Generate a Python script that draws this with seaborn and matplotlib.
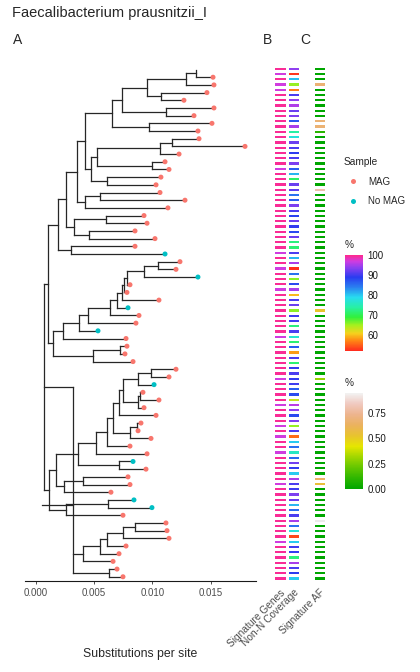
import re
import numpy as np
import pandas as pd
import matplotlib
matplotlib.use("Agg")
import matplotlib.pyplot as plt
from matplotlib.collections import LineCollection
from matplotlib.colors import LinearSegmentedColormap
import seaborn as sns

# tree in newick form; the number after ':' is the node depth from the root
# (units of 1e-4 substitutions per site), tips listed top to bottom
tree_depths = """
(
 (
  (
   (
    (
     (
      (
       (
        (
         (
          (
           ((t0:137.2,t1:152.0):137.2,t2:152.8):128.6,
           (t3:146.8,t4:127.1):107.2
          ):95.7,
          (t5:152.8,t6:135.7):111.5
         ):74.3,
         (t7:151.1,t8:139.1):97.2
        ):65.5,
        ((((t9:140.0,t10:179.4):116.9,t11:122.9):106.6,(t12:110.9,t13:114.3):100.0):52.9,
         (t14:107.4,t15:103.2):61.0):47.3
       ):42.4,
       ((t16:106.6,t17:128.0):55.2,t18:113.4):42.4
      ):35.8,
      ((t19:92.9,t20:95.5):60.6,(t21:85.2,t22:102.3):45.5):33.2
     ):25.9,
     (t23:85.2,t24:110.9):30.1
    ):19.0,
    (
     ((((((((((t25:123.7,t26:120.3):104.9,t27:139.1):92.9,t28:80.9):78.1,t29:78.3):75.8,
        t30:105.7):73.8,t31:79.2):69.5,t32:88.6):63.8,t33:86.0):44.7,t34:53.5):37.5,t35:77.5):23.8,
     ((t36:78.3,t37:76.6):72.3,t38:83.5):49.5
    ):15.2
   ):10.4,
   (
    (
     (
      (
       (
        (
         (
          (((t39:120.3,t40:114.3):98.6,t41:101.5):87.5,
           ((t42:92.0,t43:105.7):89.5,t44:92.9):88.0):74.7,
          t45:103.2
         ):71.7,
         ((t46:90.3,t47:87.8):86.9,t48:98.9):80.9
        ):66.6,
        t49:80.9
       ):61.5,
       t50:95.5
      ):51.5,
      (t51:83.5,t52:94.6):71.2
     ):36.1,
     ((t53:79.2,t54:80.9):40.9,t55:64.6):24.7
    ):17.3,
    ((t56:84.3,t57:99.7):61.8,t58:74.9):25.9
   ):11.6
  ):7.3,
  (((((t59:111.7,t60:112.6):85.2,t61:114.3):74.7,t62:77.5):61.5,t63:71.5):55.2,t64:66.4):40.9,
   (t65:69.8,t66:74.9):63.2):31.8
 ):5.6,
 ((((((t67:84.3,t68:80.9):73.8,t69:95.5):62.3,t70:50.9):20.1,
    ((t71:86.0,t72:83.5):24.7,t73:86.9):16.1):11.0,
   ((t74:66.4,t75:109.2):65.2,t76:67.2):13.9):5.8
 ):3.0,
 (((((t77:70.6,t78:78.3):68.9,t79:83.5):35.8,(t80:81.8,t81:78.3):44.7):21.6,t82:33.0):13.9,
  (((t83:75.8,t84:74.1):65.2,t85:85.2):18.2,(t86:86.0,t87:67.2):21.0):8.7):4.5,
 ((((((t88:97.2,t89:102.3):84.6,t90:120.3):80.9,t91:110.0):73.8,
    (((t92:93.8,t93:104.0):77.5,t94:95.5):69.5,t95:86.0):65.2):55.2,t96:65.5):49.5,
  t97:42.4):31.0
):0;
"""

# tips without a MAG (t0 is the reference, no point drawn)
no_mag_tips = ["t24", "t27", "t31", "t34", "t41", "t51", "t56", "t57",
               "t69", "t75", "t77", "t85"]
reference_tip = "t0"

# heatmap values, one per tip, top to bottom
signature_genes = [
    99.5, 97, 99.5, 97, 97, 99.5, 99.5, 99.5, 99.5, 99.5,
    99.5, 99.5, 99.5, 99.5, 99.5, 99.5, 99.5, 99.5, 99.5, 97,
    99.5, 99.5, 99.5, 99.5, 99.5, 99.5, 99.5, 99.5, 99.5, 99.5,
    99.5, 99.5, 99.5, 99.5, 99.5, 97, 99.5, 99.5, 97, 99.5,
    99.5, 99.5, 97, 99.5, 99.5, 99.5, 99.5, 99.5, 99.5, 99.5,
    99.5, 97, 99.5, 99.5, 99.5, 99.5, 99.5, 99.5, 99.5, 97,
    99.5, 99.5, 99.5, 99.5, 97, 99.5, 99.5, 99.5, 97, 99.5,
    97, 99.5, 99.5, 97, 99.5, 99.5, 99.5, 99.5, 99.5, 97,
    99.5, 99.5, 99.5, 99.5, 99.5, 99.5, 99.5, 99.5, 99.5, 99.5,
    97, 99.5, 99.5, 99.5, 99.5, 99.5, 99.5, 99.5,
]
non_n_coverage = [
    94, 53, 80.5, 65.5, 57, 90.5, 94, 95.5, 92, 93,
    87, 95, 74, 77.5, 92, 90.5, 89, 90.5, 93, 86.5,
    81, 71, 92, 91.5, 85, 86.5, 93, 90.5, 88.5, 92,
    89.5, 88, 92, 72, 71.5, 90.5, 81, 95, 52.5, 85,
    66, 88, 95, 60, 90.5, 92, 66, 90, 90, 72,
    90.5, 77, 71.5, 86.5, 58.5, 90.5, 71.5, 89.5, 90.5, 89.5,
    90, 86.5, 88, 63.5, 96, 94, 88, 93, 65.5, 90.5,
    56, 80, 85, 76, 85.5, 92.5, 89.5, 80, 95, 90.5,
    90, 93, 92, 81, 85.5, 90.5, 95, 85, 77.5, 54,
    80, 90, 89.5, 72, 95, 90.5, 89, 80,
]
signature_af = [
    0, 0, 0, 0.68, 0, 0, 0, 0, 0, 0,
    0.68, 0.68, 0.1, 0, 0, 0, 0, 0, 0, 0,
    0, 0, 0, 0.8, 0, 0, 0, 0, 0, 0,
    0, 0, 0, 0, 0, 0, 0, 0, 0, 0,
    0, 0, 0, 0, 0, 0, 0.52, 0, 0, 0,
    0, 0, 0, 0, 0, 0, 0, 0, 0, 0.3,
    0, 0, 0, 0, 0, 0, 0, 0, 0, 0,
    0, 0, 0, 0, 0, 0, 0, 0, 0.65, 0.55,
    0, 0, 0, 0, 0, 0, None, 0, 0, 0,
    0, 0, 0, 0, 0, 0, 0, 0,
]

# ---- parse + lay out tree
def parse_tree(text):
    s = re.sub(r"\s+", "", text).rstrip(";")
    pos = 0

    def node():
        nonlocal pos
        kids = []
        if s[pos] == "(":
            pos += 1
            kids.append(node())
            while s[pos] == ",":
                pos += 1
                kids.append(node())
            assert s[pos] == ")"
            pos += 1
        m = re.match(r"([^:,()]*)(?::([\d.]+))?", s[pos:])
        pos += m.end()
        return {"name": m.group(1), "depth": float(m.group(2) or 0), "kids": kids}

    return node()


root = parse_tree(tree_depths)
tips = []


def place(n):
    if not n["kids"]:
        n["y"] = len(tips) + 0.5
        tips.append(n)
    else:
        for k in n["kids"]:
            place(k)
        n["y"] = np.mean([k["y"] for k in n["kids"]])


place(root)
assert [t["name"] for t in tips] == [f"t{i}" for i in range(len(tips))]

segs = []


def collect(n):
    x = n["depth"] * 1e-4
    for k in n["kids"]:
        segs.append([(x, k["y"]), (k["depth"] * 1e-4, k["y"])])
        collect(k)
    if n["kids"]:
        ys = [k["y"] for k in n["kids"]]
        segs.append([(x, min(ys)), (x, max(ys))])


collect(root)

tip_df = pd.DataFrame({
    "name": [t["name"] for t in tips],
    "x": [t["depth"] * 1e-4 for t in tips],
    "y": [t["y"] for t in tips],
})
tip_df["Sample"] = np.where(tip_df["name"].isin(no_mag_tips), "No MAG", "MAG")
tip_df = tip_df[tip_df["name"] != reference_tip]

heat_b = pd.DataFrame({"Signature Genes": signature_genes,
                       "Non-N Coverage": non_n_coverage})
heat_c = pd.DataFrame({"Signature AF": np.array(signature_af, dtype=float)})

# ---- colour scales
pct_min, pct_max = 52.2, 100
pct_stops = [(52.2, "#FF2A1E"), (57.5, "#FF8A14"), (61, "#F5D21E"), (65, "#A6F01E"),
             (69, "#32F03C"), (74, "#28F0A5"), (79, "#28DCF0"), (84, "#2A80F0"),
             (89, "#2A3CF0"), (94, "#9040F0"), (97, "#D03CE0"), (100, "#FF2A8C")]
pct_cmap = LinearSegmentedColormap.from_list(
    "pct", [((v - pct_min) / (pct_max - pct_min), c) for v, c in pct_stops])
terrain = ["#00A600", "#2DB600", "#63C600", "#A0D600", "#E6E600",
           "#E8C32E", "#EBB25E", "#EDB48E", "#F0C9C0", "#F2F2F2"]
af_cmap = LinearSegmentedColormap.from_list("af", terrain)

# ---- figure
sns.set_style("white")
plt.rcParams["font.family"] = ["Liberation Sans", "DejaVu Sans"]

W, H = 420, 672
fig = plt.figure(figsize=(W / 100, H / 100), dpi=100)


def rect(x0, y0, x1, y1):
    return [x0 / W, 1 - y1 / H, (x1 - x0) / W, (y1 - y0) / H]


top, bottom = 65.7, 580.6
axT = fig.add_axes(rect(25, top, 256, bottom))
axB = fig.add_axes(rect(273, top, 300, bottom))
axC = fig.add_axes(rect(313, top, 325.5, bottom))
cax1 = fig.add_axes(rect(345, 255, 363, 351))
cax2 = fig.add_axes(rect(345, 393, 363, 489))

# tree
axT.add_collection(LineCollection(segs, colors="#262626", linewidths=0.9,
                                  capstyle="projecting"))
sns.scatterplot(data=tip_df, x="x", y="y", hue="Sample", hue_order=["MAG", "No MAG"],
                palette={"MAG": "#F8766D", "No MAG": "#00BFC4"}, s=13,
                linewidth=0, ax=axT, zorder=3)
axT.set_xlim(-0.0009, 0.01888)
axT.set_ylim(len(tips), 0)
axT.set_xticks([0, 0.005, 0.010, 0.015])
axT.set_xticklabels(["0.000", "0.005", "0.010", "0.015"])
axT.set_yticks([])
axT.set_xlabel("")
axT.set_ylabel("")
for side in ["left", "top", "right"]:
    axT.spines[side].set_visible(False)
axT.spines["bottom"].set_color("#1a1a1a")
axT.spines["bottom"].set_linewidth(0.8)
axT.tick_params(axis="x", length=2.5, width=0.6, color="#333333",
                labelsize=7, labelcolor="#4D4D4D", pad=2.5, bottom=True)

sns.move_legend(axT, "upper left", bbox_to_anchor=(344 / W, 1 - 157 / H),
                bbox_transform=fig.transFigure, frameon=False, title="Sample",
                fontsize=7, title_fontsize=7.3, handlelength=1.8,
                handletextpad=0.7, labelspacing=1.0, borderpad=0,
                borderaxespad=0, alignment="left")

# heatmaps
sns.heatmap(heat_b, ax=axB, cmap=pct_cmap, vmin=pct_min, vmax=pct_max,
            cbar_ax=cax1, cbar_kws={"ticks": [60, 70, 80, 90, 100]},
            linewidths=0.75, linecolor="white", xticklabels=True, yticklabels=False)
axC.set_facecolor("#EBEBEB")
sns.heatmap(heat_c, ax=axC, cmap=af_cmap, vmin=0, vmax=0.95,
            cbar_ax=cax2, cbar_kws={"ticks": [0, 0.25, 0.5, 0.75]},
            linewidths=0.75, linecolor="white", xticklabels=True, yticklabels=False)

for ax in [axB, axC]:
    ax.set_ylabel("")
    ax.tick_params(axis="x", length=0, pad=5)
    for lab in ax.get_xticklabels():
        lab.set_rotation(45)
        lab.set_ha("right")
        lab.set_va("top")
        lab.set_rotation_mode("anchor")
        lab.set_fontsize(7.3)
        lab.set_color("#4D4D4D")

cax2.set_yticklabels(["0.00", "0.25", "0.50", "0.75"])
for cax, ax in [(cax1, axB), (cax2, axC)]:
    ax.collections[0].colorbar.outline.set_visible(False)
    cax.tick_params(axis="y", direction="in", length=3.5, width=0.8, color="white",
                    left=True, right=True, labelleft=False, labelright=True,
                    labelsize=7, labelcolor="#1a1a1a", pad=3)

# text
fig.text(12 / W, 1 - 13.5 / H, "Faecalibacterium prausnitzii_I", fontsize=10.5, va="center")
fig.text(13 / W, 1 - 40 / H, "A", fontsize=10, va="center")
fig.text(263 / W, 1 - 40 / H, "B", fontsize=10, va="center")
fig.text(300 / W, 1 - 40 / H, "C", fontsize=10, va="center")
fig.text(140 / W, 1 - 654 / H, "Substitutions per site", fontsize=8.8,
         ha="center", va="center")
fig.text(345 / W, 1 - 245 / H, "%", fontsize=7.3, va="center")
fig.text(345 / W, 1 - 383 / H, "%", fontsize=7.3, va="center")

fig.savefig("out.png", dpi=100)
